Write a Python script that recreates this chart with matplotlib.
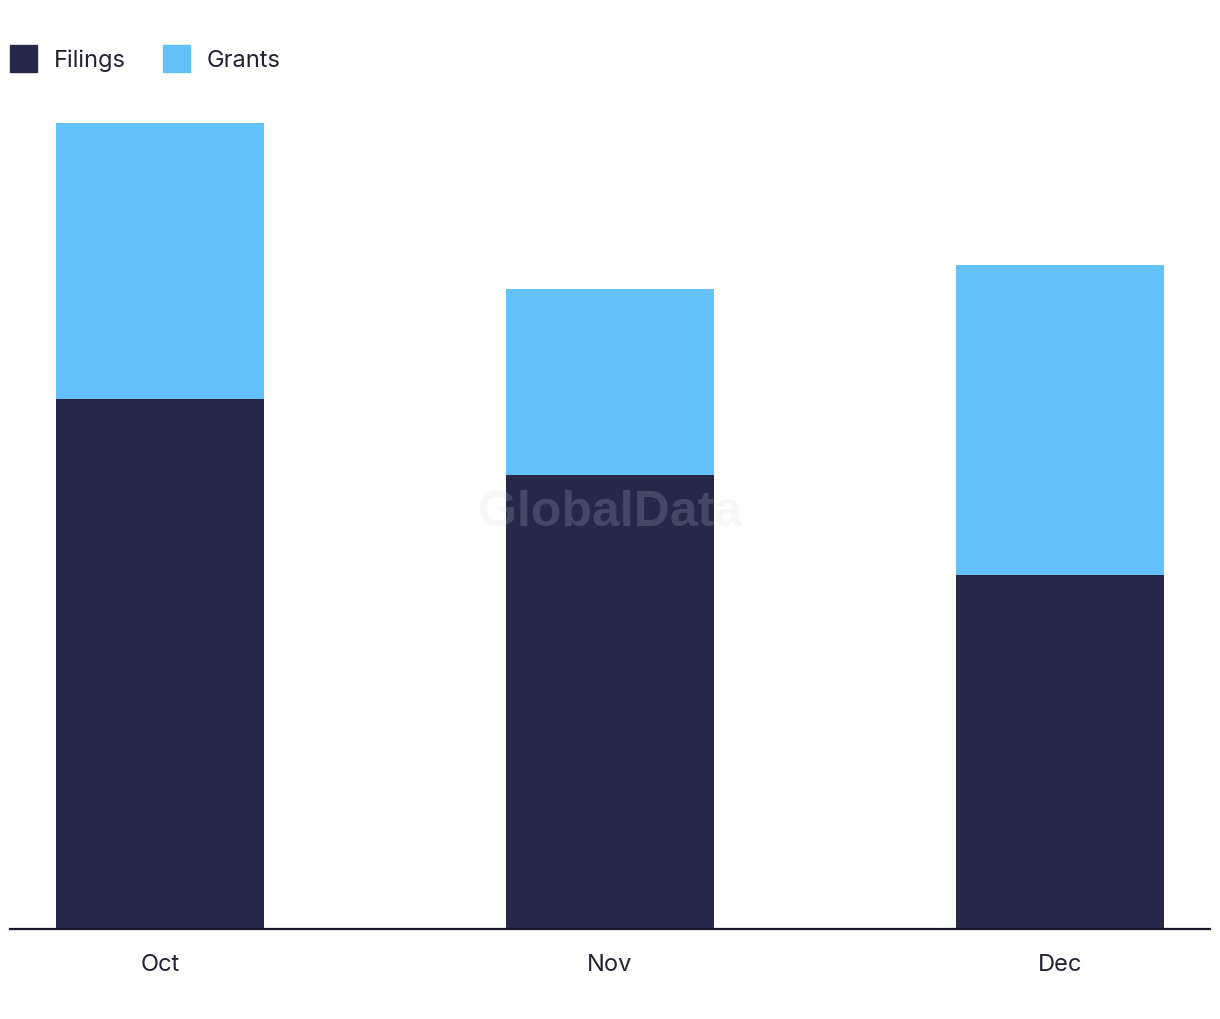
import numpy as np
import matplotlib
matplotlib.use("Agg")
import matplotlib.pyplot as plt
from matplotlib.patches import Patch

plt.rcParams['font.family'] = ['Inter', 'DejaVu Sans']

"""""""""""""""""""""""""""""""""""""""""""""""""""""""""
: Data
"""""""""""""""""""""""""""""""""""""""""""""""""""""""""
months = ["Oct", "Nov", "Dec"]
filings = [60, 51.4, 40.1]
grants = [31.3, 21.1, 35.1]

series_names = ["Filings", "Grants"]
colors = ["#27274A", "#62C1F9"]

"""""""""""""""""""""""""""""""""""""""""""""""""""""""""
: Plotting
"""""""""""""""""""""""""""""""""""""""""""""""""""""""""
fig = plt.figure(figsize=(12.2, 10.2), dpi=100)
ax = fig.add_axes([10 / 1220, 90 / 1020, 1200 / 1220, 830 / 1020])

x = np.arange(len(months))
ax.bar(x, filings, width=0.462, color=colors[0], label=series_names[0])
ax.bar(x, grants, width=0.462, bottom=filings, color=colors[1], label=series_names[1])

ax.set_xlim(-0.333, 2.333)
ax.set_ylim(0, 94)
ax.set_xticks(x)
ax.set_xticklabels(months, fontsize=17, color="#222233")
ax.tick_params(axis="x", length=0, pad=17)
ax.set_yticks([])
for side in ["top", "right", "left"]:
    ax.spines[side].set_visible(False)
ax.spines["bottom"].set_color("#1a1a2e")
ax.spines["bottom"].set_linewidth(1.6)

handles = [Patch(color=c) for c in colors]
fig.legend(handles, series_names, loc="upper left", bbox_to_anchor=(10 / 1220, 1 - 46 / 1020),
           frameon=False, ncol=2, fontsize=17, handlelength=1.15, handleheight=1.4,
           handletextpad=0.7, columnspacing=1.6, labelcolor="#222233",
           borderaxespad=0, borderpad=0)

# watermark
fig.text(0.5, 0.497, "GlobalData", fontsize=36, fontweight="bold", color="#d8d8e0",
         alpha=0.18, ha="center", va="center", family=["Liberation Sans", "DejaVu Sans"])

fig.savefig("out.png", dpi=100)
plt.close()
